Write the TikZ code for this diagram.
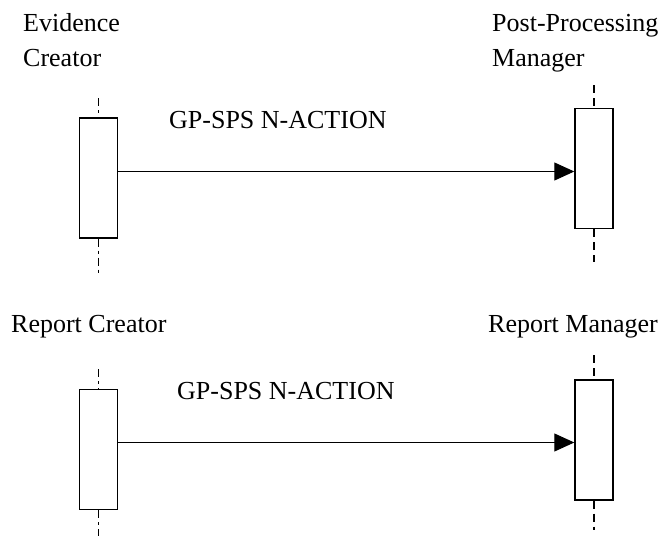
\documentclass[tikz,border=0pt]{standalone}
\usepackage{fontspec}
\setmainfont{Liberation Serif}
\usetikzlibrary{arrows.meta}
\begin{document}
\begin{tikzpicture}[x=1pt,y=-1pt,
  lbl/.style={anchor=base west,inner sep=0pt,font=\fontsize{26}{30}\selectfont},
  actbox/.style={draw,line width=1.4pt,minimum width=38pt,minimum height=120pt,inner sep=0pt,fill=white},
  lifeA/.style={line width=1.3pt,dash pattern=on 8pt off 4pt on 3pt off 4pt},
  lifeB/.style={line width=1.3pt,dash pattern=on 8pt off 5pt},
  msg/.style={line width=1pt,-{Triangle[length=20pt,width=18pt]}}]
\useasboundingbox (0,0) rectangle (665,536);
% top group
\node[lbl] (t1) at (23,31) {Evidence};
\node[lbl] (t2) at (23,66) {Creator};
\node[lbl] (t3) at (492,31) {Post-Processing};
\node[lbl] (t4) at (492,66) {Manager};
\node[actbox] (ec) at (98.5,178) {};
\node[actbox] (ppm) at (594,168.5) {};
\coordinate (ec1) at (98.5,98);
\coordinate (ec2) at (98.5,273);
\coordinate (pp1) at (594,85);
\coordinate (pp2) at (594,262);
\draw[lifeA] (ec1) -- (ec.north);
\draw[lifeA] (ec.south) -- (ec2);
\draw[lifeB] (pp1) -- (ppm.north);
\draw[lifeB] (ppm.south) -- (pp2);
\coordinate (m1) at (0,171.5);
\draw[msg] (ec.east |- m1) -- (ppm.west |- m1);
\node[lbl] (l1) at (169,128) {GP-SPS N-ACTION};
% bottom group
\node[lbl] (b1) at (11,332) {Report Creator};
\node[lbl] (b2) at (488,332) {Report Manager};
\node[actbox] (rc) at (98.5,449.5) {};
\node[actbox] (rm) at (594,440) {};
\coordinate (rc1) at (98.5,369);
\coordinate (rc2) at (98.5,536);
\coordinate (rm1) at (594,355);
\coordinate (rm2) at (594,530);
\draw[lifeA] (rc1) -- (rc.north);
\draw[lifeA] (rc.south) -- (rc2);
\draw[lifeB] (rm1) -- (rm.north);
\draw[lifeB] (rm.south) -- (rm2);
\coordinate (m2) at (0,442.5);
\draw[msg] (rc.east |- m2) -- (rm.west |- m2);
\node[lbl] (l2) at (177,399) {GP-SPS N-ACTION};
\end{tikzpicture}
\end{document}
